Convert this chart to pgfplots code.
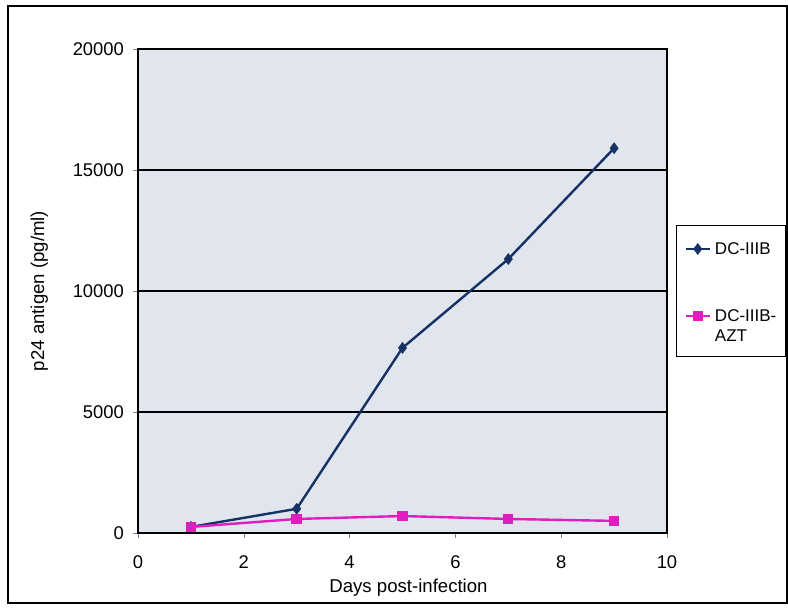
\documentclass[border=0pt]{standalone}
\usepackage{pgfplots}
\pgfplotsset{compat=1.18}
\usepackage{fontspec}
\setmainfont{Liberation Sans}
\definecolor{plotbg}{RGB}{224,229,238}
\definecolor{navy}{RGB}{22,50,100}
\definecolor{mag}{RGB}{222,30,190}
\begin{document}
\begin{tikzpicture}
\useasboundingbox (-69pt,-38pt) rectangle (325pt,266.5pt);
\draw[line width=1.2pt] (-65pt,-35pt) rectangle (324.5pt,263.5pt);
\begin{axis}[
  at={(0,0)}, anchor=south west,
  scale only axis, width=264.5pt, height=242pt,
  xmin=0, xmax=10, ymin=0, ymax=20000,
  xtick={0,2,...,10}, ytick={0,5000,...,20000},
  scaled y ticks=false,
  /pgf/number format/assume math mode=true,
  /pgf/number format/1000 sep={},
  tick label style={font=\fontsize{9.2}{11}\selectfont},
  xticklabel style={yshift=-5.5pt},
  yticklabel style={xshift=-1pt},
  label style={font=\fontsize{9.3}{11}\selectfont},
  xtick pos=left, ytick pos=left,
  tick align=outside, major tick length=2.5pt,
  ymajorgrids, grid style={black, line width=0.6pt},
  axis line style={black, line width=0.6pt},
  axis background/.style={fill=plotbg},
  xlabel={Days post-infection},
  ylabel={p24 antigen (pg/ml)},
  xlabel style={yshift=2pt, xshift=3pt},
  ylabel style={yshift=5.5pt},
  legend image code/.code={\path (-1.5pt,0pt);
    \draw[mark repeat=2,mark phase=2,#1] plot coordinates {(0pt,0pt) (6pt,0pt) (12pt,0pt)};},
  legend image post style={yshift=3pt},
  legend style={at={(1.017,0.5)}, anchor=west, draw=black, line width=0.6pt,
    font=\fontsize{8.5}{10}\selectfont, row sep=22pt,
    cells={anchor=base west}, inner ysep=7pt, inner xsep=2.5pt},
]
\addplot[navy, line width=1.2pt, mark=diamond*, mark size=2pt, mark options={fill=navy}]
  coordinates {(1,250) (3,1000) (5,7650) (7,11320) (9,15900)};
\addlegendentry{DC-IIIB}
\addplot[mag, line width=1.2pt, mark=square*, mark size=2pt, mark options={fill=mag}]
  coordinates {(1,250) (3,580) (5,700) (7,580) (9,500)};
\addlegendentry[text depth=8.5pt]{\vtop{\hbox{DC-IIIB-}\hbox{AZT}}}
\end{axis}
\end{tikzpicture}
\end{document}
